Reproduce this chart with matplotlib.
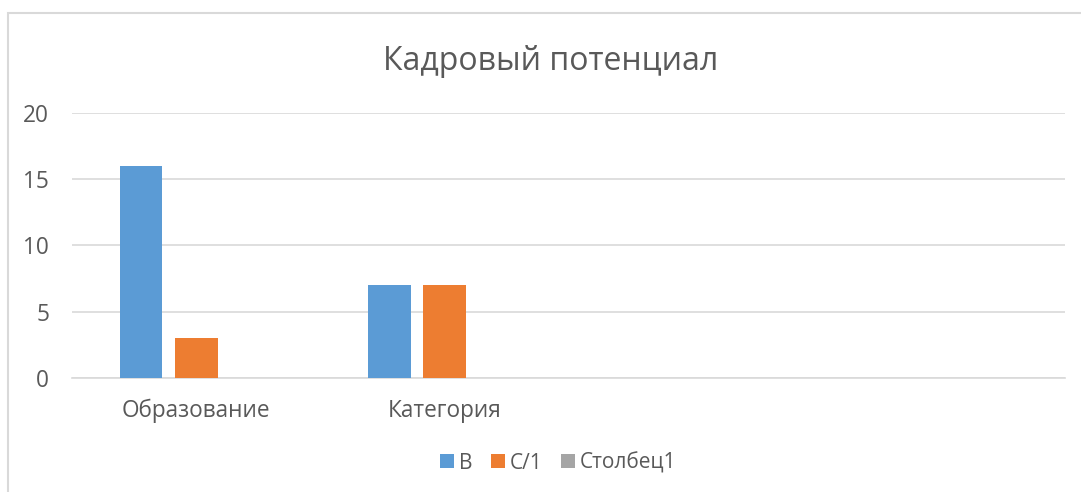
import numpy as np
import matplotlib
matplotlib.use("Agg")
import matplotlib.pyplot as plt
from matplotlib.patches import Rectangle

plt.rcParams['font.family'] = ['Open Sans', 'DejaVu Sans']

categories = ["Образование", "Категория", "", ""]
series_names = ["В", "С/1", "Столбец1"]
val_b = [16, 7, 0, 0]
val_c1 = [3, 7, 0, 0]
val_col1 = [0, 0, 0, 0]
colors = ["#5b9bd5", "#ed7d31", "#a5a5a5"]
text_col = "#595959"
grid_col = "#d9d9d9"

fig = plt.figure(figsize=(10.81, 4.92), dpi=100)
# chart frame (Excel-style border, cut off at right/bottom)
fig.patches.append(Rectangle((8 / 1081, -0.1), 1.2, (492 - 13) / 492 + 0.1,
                             transform=fig.transFigure, fill=False,
                             edgecolor=grid_col, linewidth=1.5))

ax = fig.add_axes([72 / 1081, 1 - 378 / 492, (1065 - 72) / 1081, (378 - 112.5) / 492])
x = np.arange(len(categories))
w = 0.173
off = 0.222
for i, vals in enumerate([val_b, val_c1, val_col1]):
    ax.bar(x + (i - 1) * off, vals, width=w, color=colors[i], label=series_names[i], zorder=3)

ax.set_xlim(-0.5, len(categories) - 0.5)
ax.set_ylim(0, 20)
ax.set_yticks([0, 5, 10, 15, 20])
ax.set_xticks(x)
ax.set_xticklabels(categories)
ax.yaxis.grid(True, color=grid_col, linewidth=1.2, zorder=0)
for s in ["top", "right", "left"]:
    ax.spines[s].set_visible(False)
ax.spines["bottom"].set_color(grid_col)
ax.spines["bottom"].set_linewidth(1.2)
ax.tick_params(axis="both", length=0, colors=text_col, labelsize=16.3)
ax.tick_params(axis="x", pad=15)
ax.tick_params(axis="y", pad=16.5)

fig.text(0.509, 1 - 61 / 492, "Кадровый потенциал", ha="center", va="center",
         fontsize=23, color=text_col)

fig.legend(loc="center", bbox_to_anchor=(0.5165, 1 - 463 / 492), ncol=3, frameon=False,
           fontsize=15, labelcolor=text_col, handlelength=0.65, handleheight=0.65,
           handletextpad=0.25, columnspacing=0.9)

fig.savefig("out.png", dpi=100, facecolor="white")
